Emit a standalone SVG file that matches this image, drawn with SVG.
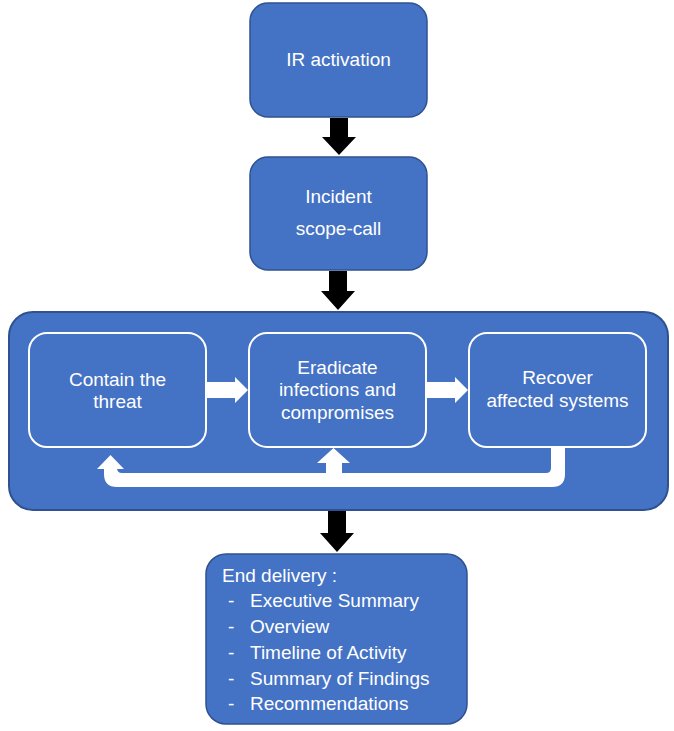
<svg xmlns="http://www.w3.org/2000/svg" width="674" height="731" viewBox="0 0 674 731">
<style>
.box{fill:#4472C4;stroke:#2F528F;stroke-width:1.5}
.inner{fill:#4472C4;stroke:#FFFFFF;stroke-width:2}
.container{fill:#4472C4;stroke:#2F528F;stroke-width:2}
.t{font-family:"Liberation Sans",Arial,sans-serif;font-size:19px;fill:#FFFFFF}
.c{text-anchor:middle}
.blk{fill:#000000}
.wht{fill:#FFFFFF}
</style>
<rect width="674" height="731" fill="#FFFFFF"/>
<g id="ir-activation">
<rect class="box" x="250" y="3" width="177" height="114" rx="18"/>
<text class="t c" x="338.5" y="66">IR activation</text>
</g>
<g id="incident-scope-call">
<rect class="box" x="250" y="157" width="177" height="113" rx="18"/>
<text class="t c" x="338.5" y="203">Incident</text>
<text class="t c" x="338.5" y="235">scope-call</text>
</g>
<g id="response-phase">
<rect class="container" x="9" y="312" width="659" height="198" rx="24"/>
</g>
<g id="contain">
<rect class="inner" x="29" y="333" width="177" height="114" rx="18"/>
<text class="t c" x="117.5" y="386">Contain the</text>
<text class="t c" x="117.5" y="408">threat</text>
</g>
<g id="eradicate">
<rect class="inner" x="249" y="333" width="177" height="114" rx="18"/>
<text class="t c" x="337.5" y="374">Eradicate</text>
<text class="t c" x="337.5" y="396">infections and</text>
<text class="t c" x="337.5" y="419">compromises</text>
</g>
<g id="recover">
<rect class="inner" x="469" y="333" width="177" height="114" rx="18"/>
<text class="t c" x="557.5" y="384">Recover</text>
<text class="t c" x="557.5" y="407">affected systems</text>
</g>
<g id="end-delivery">
<rect class="box" x="206" y="554" width="261" height="170" rx="20"/>
<text class="t" x="222" y="582">End delivery :</text>
<text class="t" x="228" y="607">-</text><text class="t" x="250" y="607">Executive Summary</text>
<text class="t" x="228" y="633">-</text><text class="t" x="250" y="633">Overview</text>
<text class="t" x="228" y="659">-</text><text class="t" x="250" y="659">Timeline of Activity</text>
<text class="t" x="228" y="685">-</text><text class="t" x="250" y="685">Summary of Findings</text>
<text class="t" x="228" y="710">-</text><text class="t" x="250" y="710">Recommendations</text>
</g>
<g id="connectors">
<polygon class="blk" points="330,118 348,118 348,137 356,137 339,155 322,137 330,137"/>
<polygon class="blk" points="329,271 347,271 347,291 355,291 338,310 321,291 329,291"/>
<polygon class="blk" points="328,511 346,511 346,533 354,533 337,552 320,533 328,533"/>
<polygon class="wht" points="207,382 235,382 235,377 248,390 235,403 235,398 207,398"/>
<polygon class="wht" points="427,382 455,382 455,377 468,390 455,403 455,398 427,398"/>
<path class="wht" d="M551,447 L565,447 L565,474 Q565,487 552,487 L117,487 Q104,487 104,474 L104,469 L97,469 L110.5,455 L124,469 L117,469 L117,468 Q117,473 122,473 L326,473 L326,463 L317,463 L333.5,448 L350,463 L342,463 L342,473 L546,473 Q551,473 551,468 Z"/>
</g>
</svg>
